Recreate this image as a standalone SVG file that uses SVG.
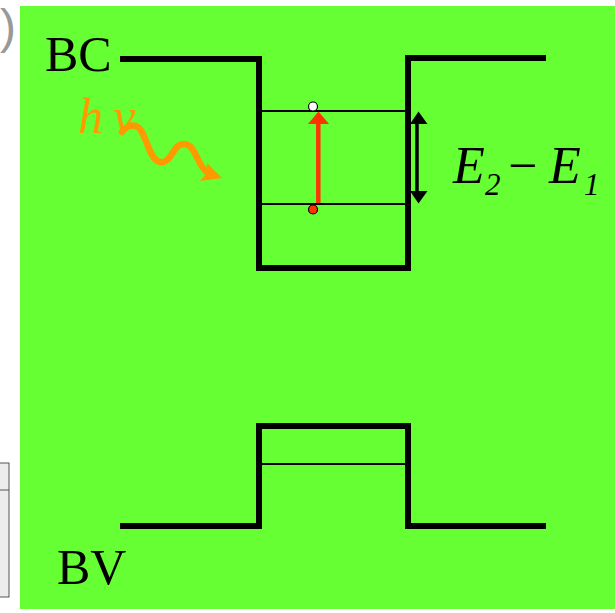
<svg xmlns="http://www.w3.org/2000/svg" width="615" height="613" viewBox="0 0 615 613">
  <style>
    .thick { fill: none; stroke: #000; stroke-width: 6; stroke-linejoin: miter; stroke-linecap: butt; }
    .thin { fill: none; stroke: #000; stroke-width: 2.2; }
    .lbl { font-family: "Liberation Serif", "Times New Roman", serif; font-size: 50px; fill: #000; }
    .ital { font-family: "Liberation Serif", "Times New Roman", serif; font-style: italic; }
  </style>
  <rect x="0" y="0" width="615" height="613" fill="#ffffff"/>
  <!-- cropped remnants at left edge -->
  <text x="0" y="43" font-family="Liberation Sans, Arial, sans-serif" font-size="48" fill="#999999">)</text>
  <rect x="-2" y="463" width="11" height="134" fill="#ececec" stroke="#555555" stroke-width="1"/>
  <line x1="-2" y1="490" x2="9" y2="490" stroke="#555555" stroke-width="1"/>
  <!-- green panel -->
  <rect x="20" y="6" width="595" height="603" fill="#66FF33"/>

  <g id="conduction-band">
    <polyline class="thick" points="120,59 259,59 259,268 408,268 408,58 546,58"/>
    <text class="lbl" x="45" y="71">BC</text>
  </g>
  <g id="level-E2">
    <line class="thin" x1="262" y1="111" x2="405" y2="111"/>
  </g>
  <g id="level-E1">
    <line class="thin" x1="262" y1="204" x2="405" y2="204"/>
  </g>
  <g id="valence-band">
    <polyline class="thick" points="120,526 259,526 259,426 408,426 408,526 546,526"/>
    <line class="thin" x1="262" y1="464" x2="405" y2="464"/>
    <text class="lbl" x="57" y="584">BV</text>
  </g>
  <g id="photon">
    <text class="ital" x="78" y="133" font-size="50" fill="#FF9900">h<tspan dx="10">v</tspan></text>
  </g>
  <g id="electron">
    <circle cx="313" cy="106.5" r="4.5" fill="#ffffff" stroke="#000" stroke-width="1.2"/>
  </g>
  <g id="hole">
    <circle cx="313" cy="209.5" r="4.5" fill="#FF3300" stroke="#000" stroke-width="1.2"/>
  </g>
  <g id="energy-label">
    <text class="ital" font-size="52" fill="#000"><tspan x="453" y="183">E</tspan><tspan x="485" y="195" font-size="31">2</tspan><tspan x="508" y="183" font-style="normal">−</tspan><tspan x="549" y="183">E</tspan><tspan x="584" y="195" font-size="31">1</tspan></text>
  </g>

  <g id="connectors">
    <!-- wavy photon arrow -->
    <path d="M122,132 Q128,124 136,126 C146,129 148,160 160,162 C172,164 172,144 184,144 C196,144 197,166 207,172" fill="none" stroke="#FF9900" stroke-width="6.5" stroke-linecap="round"/>
    <polygon points="222,178 200,181 206,174 207,163" fill="#FF9900"/>
    <!-- excitation arrow -->
    <line x1="318.3" y1="203" x2="318.3" y2="122" stroke="#FF3300" stroke-width="4.5"/>
    <polygon points="318.5,111.5 308,124 329,124" fill="#FF3300"/>
    <!-- E2-E1 double arrow -->
    <line x1="417" y1="122" x2="417" y2="193" stroke="#000" stroke-width="3.5"/>
    <polygon points="418.5,111.5 410,124 427.5,124" fill="#000"/>
    <polygon points="418.5,203.5 410,191 427.5,191" fill="#000"/>
  </g>
</svg>
